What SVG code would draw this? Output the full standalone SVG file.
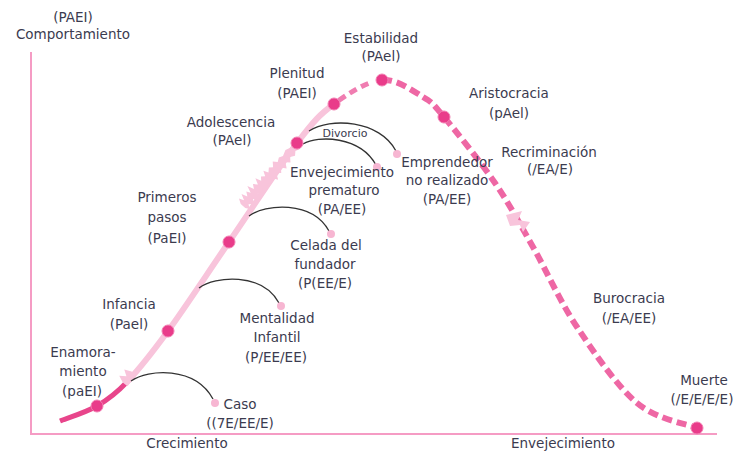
<svg xmlns="http://www.w3.org/2000/svg" width="735" height="454" viewBox="0 0 735 454">
  <style>
    text { font-family: "DejaVu Sans", "Liberation Sans", sans-serif; font-size: 13.5px; fill: #3b3b4f; text-anchor: middle; }
    .small { font-size: 11px; }
    .axis { stroke: #f59cc4; stroke-width: 2; fill: none; }
    .arc { stroke: #333; stroke-width: 1.3; fill: none; }
    .stage { fill: #e93c8a; stroke: #f27fb2; stroke-width: 1; }
    .end { fill: #f7b6d2; }
    .light { fill: #f8c4db; }
  </style>

  <rect width="735" height="454" fill="#ffffff"/>

  <!-- axes -->
  <g id="axes">
    <path class="axis" d="M31,52 V434 H717"/>
    <text x="73" y="22">(PAEI)</text>
    <text x="73" y="39">Comportamiento</text>
    <text x="187" y="448">Crecimiento</text>
    <text x="563" y="448">Envejecimiento</text>
  </g>

  <!-- lifecycle curve and transitions -->
  <g id="connectors">
    <!-- early courtship: solid dark -->
    <path d="M60,421 C66.2,418.5 85.8,412.5 97,406 C108.2,399.5 115.2,394.5 127,382" stroke="#e8458b" stroke-width="5" fill="none"/>
    <!-- growth: solid light -->
    <path d="M127,382 C138.8,369.5 151,354.3 168,331 C185,307.7 207.5,273.3 229,242 C250.5,210.7 279.5,166 297,143 C314.5,120 319.8,114.5 334,104" stroke="#f8c4db" stroke-width="6" fill="none"/>
    <!-- prime to stability: short dashes -->
    <path d="M334,104 C348.2,93.5 367.2,81.2 382,80" stroke="#f07db1" stroke-width="5" stroke-dasharray="0 6 8 5 8 5 8 5" fill="none"/>
    <!-- aging: dashed -->
    <path d="M382,80 C396.8,78.8 412.7,90.8 423,97 C433.3,103.2 432,102.7 444,117 C456,131.3 480.2,161.3 495,183 C509.8,204.7 519.3,223 533,247 C546.7,271 559.7,301 577,327 C594.3,353 617,386.2 637,403 C657,419.8 687,423.8 697,428" stroke="#ee67a4" stroke-width="6" stroke-dasharray="10 5" fill="none"/>

    <!-- torn edges -->
    <polygon class="light" transform="translate(127,382) rotate(-51)" points="-3,3 -3,-3 0,-10 4,-4 8,-10 11,-3 11,3"/>
    <polygon class="light" transform="translate(243,206) rotate(-48.7)" points="0,-3 3,-8 5,-3 8,-9 10,-3 13,-7 15,-3 18,-10 20,-3 23,-7 26,-3 29,-9 31,-3 34,-6 37,-3 40,-8 42,-3 46,-6 49,-3 53,-7 56,-3 60,-5 64,-3 70,-5 75,-3 86,-3 86,3 80,5 76,3 72,6 68,3 64,7 61,3 57,8 54,3 50,7 47,3 43,9 40,3 36,6 33,3 29,8 26,3 22,7 19,3 15,9 12,3 8,6 5,3 2,7 0,3"/>
    <polygon class="light" points="506,215 522,211 518,220 530,222 523,232 520,225 510,226"/>

    <!-- transition arcs -->
    <path class="arc" d="M131,381 C148,369 195,366 213,399"/>
    <path class="arc" d="M199,288 C215,276 262,272 279,303"/>
    <path class="arc" d="M249,216 C265,204 312,200 329,231"/>
    <path class="arc" d="M303,144 C318,135 360,136 376,165"/>
    <path class="arc" d="M309,131 C330,117 380,120 396,151"/>
  </g>

  <!-- stages -->
  <g id="enamoramiento">
    <circle class="stage" cx="97" cy="406" r="6"/>
    <text x="83" y="357">Enamora-</text>
    <text x="83" y="376">miento</text>
    <text x="82" y="396">(paEI)</text>
  </g>
  <g id="infancia">
    <circle class="stage" cx="168" cy="331" r="6"/>
    <text x="129" y="309">Infancia</text>
    <text x="129" y="329">(Pael)</text>
  </g>
  <g id="primeros-pasos">
    <circle class="stage" cx="229" cy="242" r="6"/>
    <text x="167" y="202">Primeros</text>
    <text x="167" y="222">pasos</text>
    <text x="167" y="243">(PaEI)</text>
  </g>
  <g id="adolescencia">
    <circle class="stage" cx="297" cy="143" r="6"/>
    <text x="231" y="127">Adolescencia</text>
    <text x="232" y="145">(PAel)</text>
  </g>
  <g id="plenitud">
    <circle class="stage" cx="334" cy="104" r="6"/>
    <text x="297" y="78">Plenitud</text>
    <text x="297" y="98">(PAEI)</text>
  </g>
  <g id="estabilidad">
    <circle class="stage" cx="382" cy="80" r="6"/>
    <text x="381" y="43">Estabilidad</text>
    <text x="381" y="61">(PAel)</text>
  </g>
  <g id="aristocracia">
    <circle class="stage" cx="444" cy="117" r="6"/>
    <text x="509" y="98">Aristocracia</text>
    <text x="509" y="118">(pAel)</text>
  </g>
  <g id="recriminacion">
    <text x="549" y="157">Recriminación</text>
    <text x="550" y="174">(/EA/E)</text>
  </g>
  <g id="burocracia">
    <text x="629" y="303">Burocracia</text>
    <text x="629" y="323">(/EA/EE)</text>
  </g>
  <g id="muerte">
    <circle class="stage" cx="697" cy="428" r="6"/>
    <text x="704" y="385">Muerte</text>
    <text x="702" y="404">(/E/E/E/E)</text>
  </g>

  <!-- traps -->
  <g id="caso">
    <circle class="end" cx="215" cy="403" r="4"/>
    <text x="240" y="409">Caso</text>
    <text x="240" y="428">((7E/EE/E)</text>
  </g>
  <g id="mentalidad-infantil">
    <circle class="end" cx="281" cy="306" r="4"/>
    <text x="277" y="323">Mentalidad</text>
    <text x="277" y="342">Infantil</text>
    <text x="276" y="362">(P/EE/EE)</text>
  </g>
  <g id="celada-fundador">
    <circle class="end" cx="331" cy="234" r="4"/>
    <text x="326" y="250">Celada del</text>
    <text x="325" y="269">fundador</text>
    <text x="325" y="288">(P(EE/E)</text>
  </g>
  <g id="envejecimiento-prematuro">
    <circle class="end" cx="377" cy="167" r="4"/>
    <text x="342" y="177">Envejecimiento</text>
    <text x="344" y="195">prematuro</text>
    <text x="342" y="214">(PA/EE)</text>
  </g>
  <g id="divorcio">
    <circle class="end" cx="397" cy="154" r="4"/>
    <text class="small" x="345" y="137">Divorcio</text>
  </g>
  <g id="emprendedor">
    <text x="447" y="167">Emprendedor</text>
    <text x="447" y="185">no realizado</text>
    <text x="447" y="204">(PA/EE)</text>
  </g>
</svg>
